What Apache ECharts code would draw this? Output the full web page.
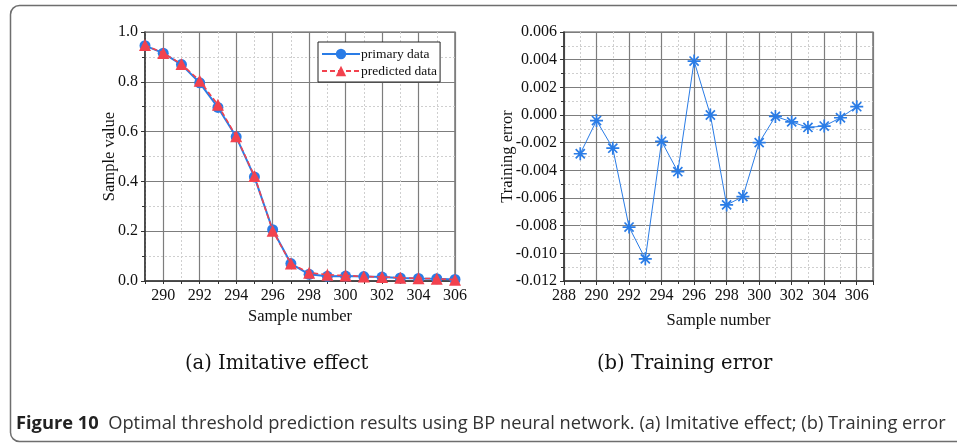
<!DOCTYPE html>
<html>
<head>
<meta charset="utf-8">
<script src="https://cdn.jsdelivr.net/npm/echarts@6/dist/echarts.min.js"></script>
<style>
  html, body { margin: 0; padding: 0; background: #fff; }
  #chart { width: 957px; height: 443px; }
</style>
</head>
<body>
<div id="chart"></div>
<script>
// Sample indices shared by both panels
const samples = [289, 290, 291, 292, 293, 294, 295, 296, 297, 298, 299, 300, 301, 302, 303, 304, 305, 306];

// (a) measured values and network output
const primaryData = [0.945, 0.915, 0.869, 0.796, 0.697, 0.579, 0.418, 0.206, 0.070, 0.027, 0.019, 0.020, 0.018, 0.016, 0.012, 0.010, 0.009, 0.006];
const predictedData = [0.9478, 0.9154, 0.8714, 0.8041, 0.7074, 0.5809, 0.4221, 0.2021, 0.0700, 0.0335, 0.0249, 0.0220, 0.0181, 0.0165, 0.0129, 0.0108, 0.0092, 0.0054];

// (b) training error per sample
const trainingError = [-0.0028, -0.0004, -0.0024, -0.0081, -0.0104, -0.0019, -0.0041, 0.0039, 0.0000, -0.0065, -0.0059, -0.0020, -0.0001, -0.0005, -0.0009, -0.0008, -0.0002, 0.0006];

// Axis ranges and tick steps
const leftX = { min: 289, max: 306, step: 1 };
const leftY = { min: 0, max: 1, step: 0.2 };
const rightX = { min: 288, max: 307, step: 2 };
const rightY = { min: -0.012, max: 0.006, step: 0.002 };

const SERIF = '"Liberation Serif", "Times New Roman", serif';
const SANS = '"Open Sans", "Noto Sans", sans-serif';
const BLUE = '#2a7ce6';
const RED = '#f2424e';
const MAJOR = '#7d7d7d';
const MINOR = '#cfcfcf';
const AXIS = '#333';

const pairs = (xs, ys) => xs.map((x, i) => [x, ys[i]]);

const tickLabel = { color: '#111', fontFamily: SERIF, fontSize: 16 };
const nameStyle = { color: '#111', fontFamily: SERIF, fontSize: 16.5 };
const axisLine = { show: true, onZero: false, lineStyle: { color: AXIS, width: 1.5 } };
const axisTick = { show: true, inside: false, length: 4, lineStyle: { color: AXIS } };

// Asterisk marker: vertical, horizontal and two diagonal strokes
const asterisk = 'path://M10 0L10 20M0 10L20 10M3 3L17 17M17 3L3 17';

const chart = echarts.init(document.getElementById('chart'), null, { renderer: 'canvas' });

chart.setOption({
  backgroundColor: '#fff',
  animation: false,
  grid: [
    { left: 145, top: 32, width: 310, height: 249, show: true, borderColor: '#555', borderWidth: 1.2, backgroundColor: 'transparent' },
    { left: 564, top: 32, width: 309, height: 249, show: true, borderColor: '#555', borderWidth: 1.2, backgroundColor: 'transparent' }
  ],
  legend: {
    orient: 'vertical',
    left: 318, top: 42,
    backgroundColor: '#fff',
    borderColor: '#222', borderWidth: 1,
    borderRadius: 0,
    padding: [5, 3, 4, 3],
    itemGap: 3,
    itemWidth: 38, itemHeight: 13,
    textStyle: { color: '#111', fontFamily: SERIF, fontSize: 13.5, padding: [0, 0, 0, -4] },
    data: ['primary data', 'predicted data']
  },
  xAxis: [
    {
      // (a) labelled axis with a light line at every sample
      type: 'value', gridIndex: 0,
      min: leftX.min, max: leftX.max, interval: leftX.step,
      name: 'Sample number', nameLocation: 'middle', nameGap: 27, nameMoveOverlap: false, nameTextStyle: nameStyle,
      axisLine, axisTick: { ...axisTick, length: 3 },
      axisLabel: { ...tickLabel, margin: 7, formatter: v => (Math.round(v) % 2 === 0 ? String(Math.round(v)) : '') },
      splitLine: { show: true, lineStyle: { color: MINOR, type: [2, 2], width: 1 } }
    },
    {
      // (a) darker line at every even sample
      type: 'value', gridIndex: 0,
      min: leftX.min, max: leftX.max, interval: leftX.step,
      axisLine: { show: false }, axisTick: { show: false }, axisLabel: { show: false },
      splitLine: { show: true, lineStyle: { color: ['rgba(0,0,0,0)', MAJOR], width: 1.2 } }
    },
    {
      type: 'value', gridIndex: 1,
      min: rightX.min, max: rightX.max, interval: rightX.step,
      name: 'Sample number', nameLocation: 'middle', nameGap: 31, nameMoveOverlap: false, nameTextStyle: nameStyle,
      axisLine, axisTick,
      minorTick: { show: true, splitNumber: 2, length: 3, lineStyle: { color: AXIS } },
      axisLabel: { ...tickLabel, margin: 7, showMaxLabel: false, formatter: v => String(Math.round(v)) },
      splitLine: { show: true, lineStyle: { color: MAJOR, width: 1.2 } },
      minorSplitLine: { show: true, lineStyle: { color: MINOR, type: [2, 2], width: 1 } }
    }
  ],
  yAxis: [
    {
      type: 'value', gridIndex: 0,
      min: leftY.min, max: leftY.max, interval: leftY.step,
      name: 'Sample value', nameLocation: 'middle', nameGap: 27, nameMoveOverlap: false, nameTextStyle: nameStyle,
      axisLine, axisTick,
      minorTick: { show: true, splitNumber: 2, length: 3, lineStyle: { color: AXIS } },
      axisLabel: { ...tickLabel, margin: 7, formatter: v => v.toFixed(1) },
      splitLine: { show: true, lineStyle: { color: MAJOR, width: 1.2 } },
      minorSplitLine: { show: true, lineStyle: { color: MINOR, type: [2, 2], width: 1 } }
    },
    {
      type: 'value', gridIndex: 1,
      min: rightY.min, max: rightY.max, interval: rightY.step,
      name: 'Training error', nameLocation: 'middle', nameGap: 48, nameMoveOverlap: false, nameTextStyle: nameStyle,
      axisLine, axisTick,
      minorTick: { show: true, splitNumber: 2, length: 3, lineStyle: { color: AXIS } },
      axisLabel: { ...tickLabel, margin: 7, formatter: v => (Math.abs(v) < 1e-9 ? '0.000' : v.toFixed(3)) },
      splitLine: { show: true, lineStyle: { color: MAJOR, width: 1.2 } },
      minorSplitLine: { show: true, lineStyle: { color: MINOR, type: [2, 2], width: 1 } }
    }
  ],
  series: [
    {
      name: 'primary data', type: 'line', xAxisIndex: 0, yAxisIndex: 0,
      data: pairs(samples, primaryData),
      symbol: 'circle', symbolSize: 11,
      itemStyle: { color: BLUE },
      lineStyle: { color: BLUE, width: 2 },
      z: 3
    },
    {
      name: 'predicted data', type: 'line', xAxisIndex: 0, yAxisIndex: 0,
      data: pairs(samples, predictedData),
      symbol: 'triangle', symbolSize: 12,
      itemStyle: { color: RED },
      lineStyle: { color: RED, width: 1.6, type: [5, 3] },
      z: 4
    },
    {
      name: 'training error', type: 'line', xAxisIndex: 2, yAxisIndex: 1,
      data: pairs(samples, trainingError),
      symbol: asterisk, symbolSize: 13, symbolKeepAspect: true,
      itemStyle: { color: 'rgba(0,0,0,0)', borderColor: BLUE, borderWidth: 1.7 },
      lineStyle: { color: BLUE, width: 1 },
      z: 3
    }
  ],
  graphic: [
    {
      // rounded frame around the figure
      type: 'rect', silent: true,
      shape: { x: 10.5, y: 5.5, width: 980, height: 436, r: 9 },
      style: { fill: 'none', stroke: '#6e6e6e', lineWidth: 1.5 }
    },
    {
      type: 'text', left: 185, top: 354,
      style: { text: '(a) Imitative effect', font: '19.5px "DejaVu Serif", serif', fill: '#111' }
    },
    {
      type: 'text', left: 597, top: 354,
      style: { text: '(b) Training error', font: '19.5px "DejaVu Serif", serif', fill: '#111' }
    },
    {
      type: 'text', left: 16, top: 415,
      style: {
        rich: {
          b: { fontFamily: SANS, fontWeight: 'bold', fontSize: 18.3, fill: '#222' },
          n: { fontFamily: SANS, fontSize: 18.3, fill: '#333' }
        },
        text: '{b|Figure 10}{n|  Optimal threshold prediction results using BP neural network. (a) Imitative effect; (b) Training error}'
      }
    }
  ]
});
</script>
</body>
</html>
